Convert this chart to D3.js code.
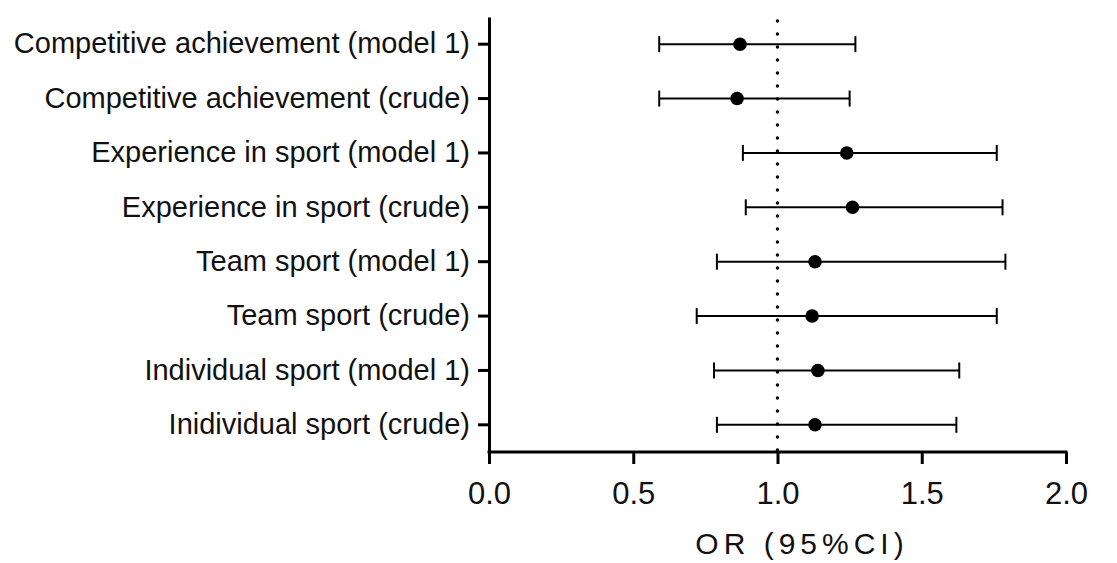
<!DOCTYPE html>
<html>
<head>
<meta charset="utf-8">
<script src="https://cdn.jsdelivr.net/npm/d3@7"></script>
<style>
  body { margin: 0; background: #fff; }
  text { font-family: "Liberation Sans", Arial, Helvetica, sans-serif; fill: #111; }
</style>
</head>
<body>
<div id="chart"></div>
<script>
// categories top to bottom
const categories = [
    "Competitive achievement (model 1)",
    "Competitive achievement (crude)",
    "Experience in sport (model 1)",
    "Experience in sport (crude)",
    "Team sport (model 1)",
    "Team sport (crude)",
    "Individual sport (model 1)",
    "Inidividual sport (crude)"
];
const oddsRatio = [0.87, 0.86, 1.24, 1.26, 1.13, 1.12, 1.14, 1.13];
const lowerCI   = [0.59, 0.59, 0.88, 0.89, 0.79, 0.72, 0.78, 0.79];
const upperCI   = [1.27, 1.25, 1.76, 1.78, 1.79, 1.76, 1.63, 1.62];
const xTicks = [0, 0.5, 1.0, 1.5, 2.0];
const refLine = 1.0;
const xLabel = "OR (95%CI)";

const data = categories.map((c, i) => ({
    name: c, or: oddsRatio[i], lo: lowerCI[i], hi: upperCI[i]
}));

const config = {
    containerWidth: 1117,
    containerHeight: 563,
    margin: { top: 17, right: 51, bottom: 111, left: 489 }
};
const width = config.containerWidth - config.margin.left - config.margin.right;
const height = config.containerHeight - config.margin.top - config.margin.bottom;

const svg = d3.select('#chart')
    .append('svg')
    .attr('width', config.containerWidth)
    .attr('height', config.containerHeight);

const g = svg.append('g')
    .attr('transform', `translate(${config.margin.left},${config.margin.top})`);

const xScale = d3.scaleLinear().domain([0, 2]).range([0, 577]);
const yScale = d3.scaleBand().domain(categories).range([0, height]);

// y axis
const yAxis = g.append('g')
    .call(d3.axisLeft(yScale).tickSize(11).tickSizeOuter(0).tickPadding(8));
yAxis.select('.domain').attr('stroke', '#000').attr('stroke-width', 3);
yAxis.selectAll('.tick line').attr('stroke', '#000').attr('stroke-width', 3);
yAxis.selectAll('.tick text')
    .style('font-size', '29px')
    .attr('fill', '#111');

// x axis
const xAxis = g.append('g')
    .attr('transform', `translate(0,${height})`)
    .call(d3.axisBottom(xScale).tickValues(xTicks).tickFormat(d3.format('.1f'))
        .tickSize(12).tickSizeOuter(0).tickPadding(18));
xAxis.select('.domain').attr('stroke', '#000').attr('stroke-width', 3)
    .attr('d', `M-1.5,0H${xScale(2) + 1.5}`);
xAxis.selectAll('.tick line').attr('stroke', '#000').attr('stroke-width', 3);
xAxis.selectAll('.tick text')
    .style('font-size', '31px')
    .attr('fill', '#111');

// x axis title
g.append('text')
    .attr('x', 313)
    .attr('y', height + 102)
    .attr('text-anchor', 'middle')
    .style('font-size', '30px')
    .style('letter-spacing', '5px')
    .text(xLabel);

// reference line at OR = 1
g.append('line')
    .attr('x1', xScale(refLine)).attr('x2', xScale(refLine))
    .attr('y1', 4).attr('y2', height)
    .attr('stroke', '#000')
    .attr('stroke-width', 3.5)
    .attr('stroke-linecap', 'round')
    .attr('stroke-dasharray', '0,13');

// error bars
const rows = g.append('g').selectAll('g')
    .data(data)
    .enter()
    .append('g')
    .attr('transform', d => `translate(0,${yScale(d.name) + yScale.bandwidth() / 2})`);

rows.append('line')
    .attr('x1', d => xScale(d.lo)).attr('x2', d => xScale(d.hi))
    .attr('stroke', '#000').attr('stroke-width', 2);

rows.selectAll('.cap')
    .data(d => [d.lo, d.hi])
    .enter()
    .append('line')
    .attr('class', 'cap')
    .attr('x1', v => xScale(v)).attr('x2', v => xScale(v))
    .attr('y1', -8).attr('y2', 8)
    .attr('stroke', '#000').attr('stroke-width', 2);

rows.append('circle')
    .attr('cx', d => xScale(d.or))
    .attr('r', 6.8)
    .attr('fill', '#000');
</script>
</body>
</html>
